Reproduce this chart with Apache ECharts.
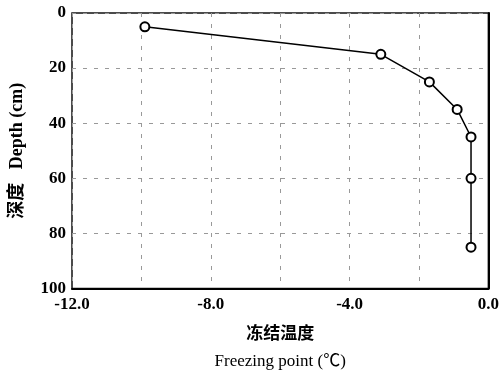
<!DOCTYPE html>
<html>
<head>
<meta charset="utf-8">
<script src="https://cdn.jsdelivr.net/npm/echarts@6/dist/echarts.min.js"></script>
<style>
  html, body { margin: 0; padding: 0; background: #fff; }
  #chart { width: 502px; height: 375px; }
</style>
</head>
<body>
<div id="chart"></div>
<script>
// freezing point (°C) vs depth (cm)
const freezingPoint = [-9.9, -3.1, -1.7, -0.9, -0.5, -0.5, -0.5];
const depth = [5, 15, 25, 35, 45, 60, 85];

const FONT = '"Liberation Serif", "Noto Sans CJK SC", serif';

const chart = echarts.init(document.getElementById('chart'), null, { renderer: 'canvas' });

chart.setOption({
  animation: false,
  backgroundColor: '#fff',
  grid: {
    left: 72, right: 10, top: 13, bottom: 86,
    show: true,
    borderColor: '#111',
    borderWidth: 1.5
  },
  xAxis: {
    type: 'value',
    min: -12, max: 0, interval: 2,
    axisLine: { show: true, onZero: false, lineStyle: { color: '#000', width: 2 } },
    axisTick: { show: false },
    axisLabel: {
      margin: 8,
      color: '#000',
      fontFamily: FONT,
      fontWeight: 'bold',
      fontSize: 17,
      formatter: (v) => (v % 4 === 0 ? v.toFixed(1) : '')
    },
    splitLine: { show: true, lineStyle: { color: '#999', width: 1, type: [4, 7] } },
    name: '{a|冻结温度}\n{b|Freezing point (℃)}',
    nameLocation: 'middle',
    nameGap: 34,
    nameTextStyle: {
      rich: {
        a: { fontFamily: FONT, fontWeight: 'bold', fontSize: 17, color: '#000', lineHeight: 24 },
        b: { fontFamily: FONT, fontSize: 17, color: '#000', lineHeight: 30 }
      }
    }
  },
  yAxis: {
    type: 'value',
    inverse: true,
    min: 0, max: 100, interval: 20,
    axisLine: { show: true, lineStyle: { color: '#000', width: 2 } },
    axisTick: { show: false },
    axisLabel: {
      margin: 6,
      color: '#000',
      fontFamily: FONT,
      fontWeight: 'bold',
      fontSize: 17
    },
    splitLine: { show: true, lineStyle: { color: '#999', width: 1, type: [4, 7] } },
    name: '深度   Depth (cm)',
    nameLocation: 'middle',
    nameGap: 46,
    nameTextStyle: { fontFamily: FONT, fontWeight: 'bold', fontSize: 18, color: '#000' }
  },
  series: [{
    type: 'line',
    data: freezingPoint.map((t, i) => [t, depth[i]]),
    symbol: 'emptyCircle',
    symbolSize: 9,
    lineStyle: { color: '#000', width: 1.5 },
    itemStyle: { color: '#000', borderColor: '#000', borderWidth: 1.5 }
  }]
});
</script>
</body>
</html>
